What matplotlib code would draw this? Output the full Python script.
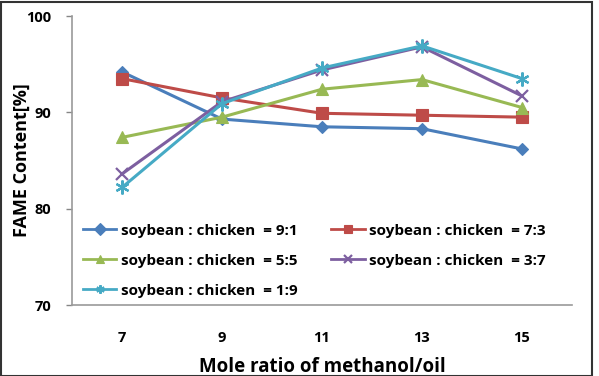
import matplotlib

matplotlib.use("Agg")

import matplotlib.pyplot as plt
from matplotlib.patches import Rectangle

# 数据
mole_ratio = [7, 9, 11, 13, 15]
labels = [
    "soybean : chicken  = 9:1",
    "soybean : chicken  = 7:3",
    "soybean : chicken  = 5:5",
    "soybean : chicken  = 3:7",
    "soybean : chicken  = 1:9",
]
fame_91 = [94.2, 89.3, 88.5, 88.3, 86.2]
fame_73 = [93.5, 91.5, 89.9, 89.7, 89.5]
fame_55 = [87.4, 89.5, 92.4, 93.4, 90.5]
fame_37 = [83.6, 91.1, 94.4, 96.8, 91.7]
fame_19 = [82.2, 90.9, 94.6, 96.9, 93.5]

series = [fame_91, fame_73, fame_55, fame_37, fame_19]
colors = ["#4A7EBB", "#BE4B48", "#98B954", "#7D5FA0", "#46AAC5"]
markers = ["D", "s", "^", "x", (6, 2, 0)]
marker_sizes = [6, 8, 8, 8, 10]

plt.rcParams["font.family"] = ["Open Sans", "DejaVu Sans"]

fig = plt.figure(figsize=(5.99, 3.76), dpi=100)
ax = fig.add_axes([72 / 599, 1 - 305 / 376, 500 / 599, 289 / 376])

lines = []
for values, label, color, marker, ms in zip(series, labels, colors, markers, marker_sizes):
    thin = marker == "x" or isinstance(marker, tuple)
    (line,) = ax.plot(
        mole_ratio,
        values,
        color=color,
        linewidth=2.2,
        marker=marker,
        markersize=ms,
        markeredgewidth=1.6 if thin else 0.8,
        markeredgecolor=color,
        label=label,
    )
    lines.append(line)

ax.set_xlim(6, 16)
ax.set_ylim(70, 100)
ax.set_xticks(mole_ratio)
ax.set_yticks([70, 80, 90, 100])
ax.tick_params(axis="x", length=0, pad=19, labelsize=10.5)
ax.tick_params(axis="y", length=4, width=1, color="#868686", direction="out", labelsize=10.5, pad=11)
for lab in ax.get_xticklabels() + ax.get_yticklabels():
    lab.set_fontweight("bold")

for side in ("top", "right"):
    ax.spines[side].set_visible(False)
for side in ("left", "bottom"):
    ax.spines[side].set_color("#9A9A9A")
    ax.spines[side].set_linewidth(1.2)

ax.set_xlabel("Mole ratio of methanol/oil", fontsize=13.5, fontweight="bold", labelpad=8)
ax.set_ylabel("FAME Content[%]", fontsize=13, fontweight="bold")
ax.yaxis.set_label_coords(-0.082, 0.5)

# 图例按行排列: 9:1, 7:3 / 5:5, 3:7 / 1:9
order = [0, 2, 4, 1, 3]
leg = ax.legend(
    [lines[i] for i in order],
    [labels[i] for i in order],
    ncol=2,
    loc="lower left",
    bbox_to_anchor=(0.0, -0.012),
    frameon=False,
    handlelength=2.2,
    handletextpad=0.3,
    columnspacing=2.2,
    labelspacing=1.05,
    borderpad=0.2,
    prop={"weight": "bold", "size": 11},
)
for h in leg.legend_handles:
    h.set_linewidth(2)
    h.set_markersize(6)

# 外边框
fig.patches.append(Rectangle((1 / 599, 0), 591 / 599, 374 / 376, transform=fig.transFigure,
                             fill=False, edgecolor="#333333", linewidth=1.5))

fig.savefig("out.png", dpi=100)
